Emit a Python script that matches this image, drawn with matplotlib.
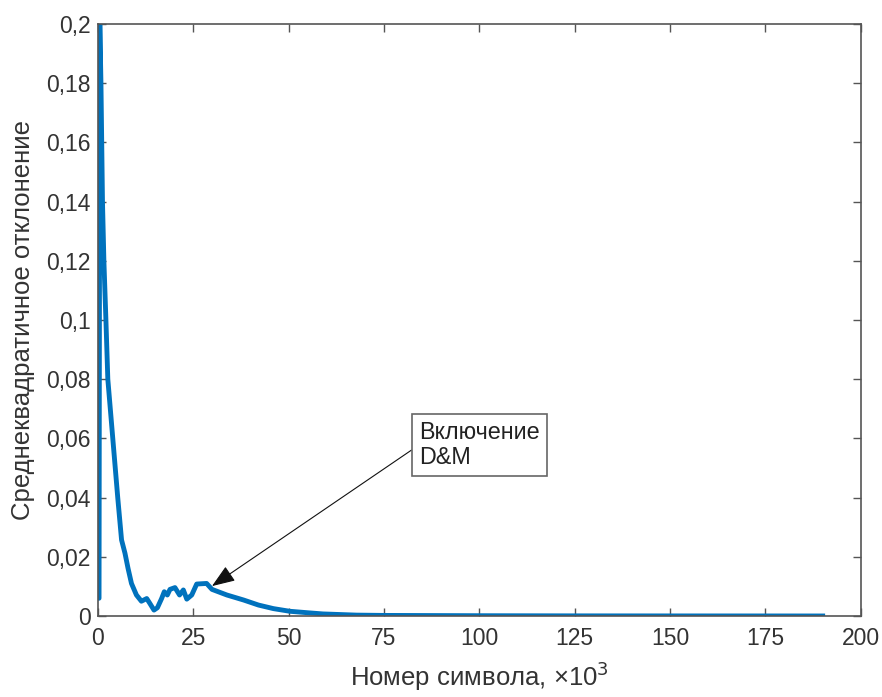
import numpy as np
import matplotlib.pyplot as plt
from matplotlib.ticker import FuncFormatter

# symbol index (thousands) and RMS deviation
symbol_k = [0.0, 0.3, 0.5, 0.8, 1.0, 1.2, 1.57, 2.1, 2.6, 3.9, 5.2, 6.2, 7.1,
            7.9, 8.8, 10.1, 11.4, 12.8, 13.6, 14.7, 15.6, 16.7, 17.4, 18.2,
            18.9, 20.2, 21.4, 22.4, 23.3, 24.6, 25.9, 28.5, 29.9, 33.8, 38.2,
            42.1, 46.0, 50.3, 55.0, 59.0, 67.8, 75.0, 100.0, 125.0, 150.0,
            175.0, 190.0]
rms_dev = [0.006, 0.006, 0.2, 0.18, 0.16, 0.14, 0.12, 0.1, 0.08, 0.06, 0.04,
           0.0257, 0.0212, 0.0161, 0.011, 0.0071, 0.005, 0.0059, 0.0043, 0.002,
           0.0028, 0.0059, 0.0082, 0.0071, 0.009, 0.0096, 0.0071, 0.0088,
           0.0057, 0.0071, 0.0108, 0.011, 0.009, 0.0071, 0.0054, 0.0037,
           0.0025, 0.0016, 0.0011, 0.0007, 0.0003, 0.0002, 0.0001, 0.00005,
           0.00003, 0.00002, 0.00001]

x_ticks = [0, 25, 50, 75, 100, 125, 150, 175, 200]
y_ticks = [0, 0.02, 0.04, 0.06, 0.08, 0.1, 0.12, 0.14, 0.16, 0.18, 0.2]

plt.rcParams['font.family'] = ['Liberation Sans', 'DejaVu Sans']
axis_color = '#555555'
text_color = '#333333'

fig = plt.figure(figsize=(8.82, 6.97), dpi=100)
ax = fig.add_axes([0.111, 0.1162, 0.865, 0.8494])

ax.plot(symbol_k, rms_dev, color='#0072BD', lw=3.5, solid_joinstyle='round')

ax.set_xlim(0, 200)
ax.set_ylim(0, 0.2)
ax.set_xticks(x_ticks)
ax.set_yticks(y_ticks)
ax.yaxis.set_major_formatter(FuncFormatter(lambda v, p: ('%g' % round(v, 3)).replace('.', ',')))
ax.tick_params(direction='in', length=6, width=1, colors=axis_color,
               labelcolor=text_color, labelsize=16.5, top=True, right=True)
ax.tick_params(axis='x', pad=8)
ax.tick_params(axis='y', pad=5)
for s in ax.spines.values():
    s.set_color(axis_color)
    s.set_linewidth(1.2)

ax.set_xlabel('Номер символа, ×10$^{3}$', fontsize=18.5, color=text_color, labelpad=7)
ax.set_ylabel('Среднеквадратичное отклонение', fontsize=18.5, color=text_color, labelpad=8)

ax.annotate('Включение\nD&M', xy=(29.9, 0.0101), xytext=(84.2, 0.0578),
            ha='left', va='center', fontsize=16.8, linespacing=1.1, color='#222222',
            bbox=dict(boxstyle='square,pad=0.3', fc='white', ec='#666666', lw=1.2),
            arrowprops=dict(arrowstyle='-|>,head_length=0.85,head_width=0.32',
                            color='#111111', lw=0.8, shrinkA=0, shrinkB=0,
                            relpos=(0, 0.5)))

fig.savefig('out.png', dpi=100)
